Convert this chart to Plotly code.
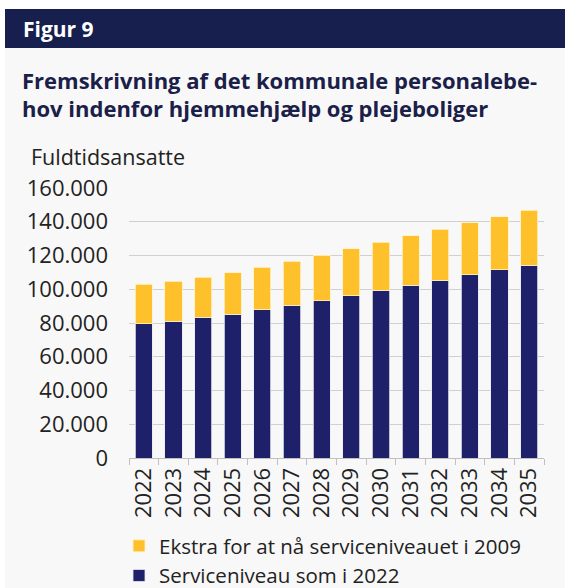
import plotly.graph_objects as go

years = [str(y) for y in range(2022, 2036)]
base_2022 = [79700, 80900, 83300, 85200, 87800, 90400, 93200, 96100, 99500, 102300, 105200, 108600, 111600, 114300]
total_2009 = [103000, 104600, 107200, 109800, 113100, 116500, 120100, 124000, 127800, 131700, 135500, 139500, 143000, 146900]
extra_2009 = [t - b for t, b in zip(total_2009, base_2022)]

tick_vals = [0, 20000, 40000, 60000, 80000, 100000, 120000, 140000, 160000]
tick_text = ["0", "20.000", "40.000", "60.000", "80.000", "100.000", "120.000", "140.000", "160.000"]

NAVY = "#1f206a"
YELLOW = "#ffc12b"
HEADER = "#161f4e"
BG = "#f8f8f8"
TXT = "#222222"
FONT = "Open Sans"

W, H = 565, 588
L, R, T, B = 129, 21, 188, 130
pw, ph = W - L - R, H - T - B

def px(x):
    return (x - L) / pw

def py(y):
    return (H - B - y) / ph

fig = go.Figure()
fig.add_trace(go.Bar(
    x=years, y=base_2022, name="Serviceniveau som i 2022",
    marker=dict(color=NAVY, line=dict(color="#e8e8f0", width=0.8)),
    width=0.58,
))
fig.add_trace(go.Bar(
    x=years, y=extra_2009, name="Ekstra for at nå serviceniveauet i 2009",
    marker=dict(color=YELLOW, line=dict(color="#fff3c8", width=0.8)),
    width=0.58,
))

shapes = [
    dict(type="rect", xref="paper", yref="paper", x0=px(5), x1=px(570), y0=py(600), y1=py(9),
         fillcolor=BG, line=dict(width=0), layer="below"),
    dict(type="rect", xref="paper", yref="paper", x0=px(5), x1=px(570), y0=py(48), y1=py(9),
         fillcolor=HEADER, line=dict(width=0), layer="below"),
]

title_lines = ["Fremskrivning af det kommunale personalebe-", "hov indenfor hjemmehjælp og plejeboliger"]
annotations = [
    dict(text="<b>Figur 9</b>", xref="paper", yref="paper", x=px(21), y=py(29),
         xanchor="left", yanchor="middle", showarrow=False,
         font=dict(family=FONT, size=21, color="white")),
    dict(text="Fuldtidsansatte", xref="paper", yref="paper", x=px(29), y=py(157),
         xanchor="left", yanchor="middle", showarrow=False,
         font=dict(family=FONT, size=21.5, color=TXT)),
]
for i, line in enumerate(title_lines):
    annotations.append(dict(
        text=f"<b>{line}</b>", xref="paper", yref="paper", x=px(20), y=py(80 + 28 * i),
        xanchor="left", yanchor="middle", showarrow=False,
        font=dict(family=FONT, size=22, color="#1b2048")))

fig.update_layout(
    width=W, height=H,
    margin=dict(l=L, r=R, t=T, b=B, pad=0, autoexpand=False),
    barmode="stack",
    paper_bgcolor="white",
    plot_bgcolor="rgba(0,0,0,0)",
    font=dict(family=FONT, color=TXT),
    shapes=shapes,
    annotations=annotations,
    showlegend=True,
    legend=dict(
        orientation="v", x=px(119), y=py(526), xanchor="left", yanchor="top",
        traceorder="reversed", bgcolor="rgba(0,0,0,0)",
        font=dict(family=FONT, size=20.5, color=TXT),
        itemwidth=30, tracegroupgap=0,
    ),
    xaxis=dict(
        type="category", tickangle=-90, tickson="boundaries",
        ticks="outside", ticklen=6, tickcolor="#c0c0c0",
        showline=True, linecolor="#c0c0c0", linewidth=1,
        tickfont=dict(family=FONT, size=22, color=TXT),
        showgrid=False,
    ),
    yaxis=dict(
        range=[0, 160000], tickvals=tick_vals, ticktext=tick_text,
        showgrid=True, gridcolor="#d0d0d0", gridwidth=1.3,
        zeroline=False, showline=False, ticks="",
        tickfont=dict(family=FONT, size=22, color=TXT),
        ticklabelstandoff=20,
    ),
)

fig.write_html("out.html", config={"displayModeBar": False},
               post_script="document.body.style.margin='0';")
